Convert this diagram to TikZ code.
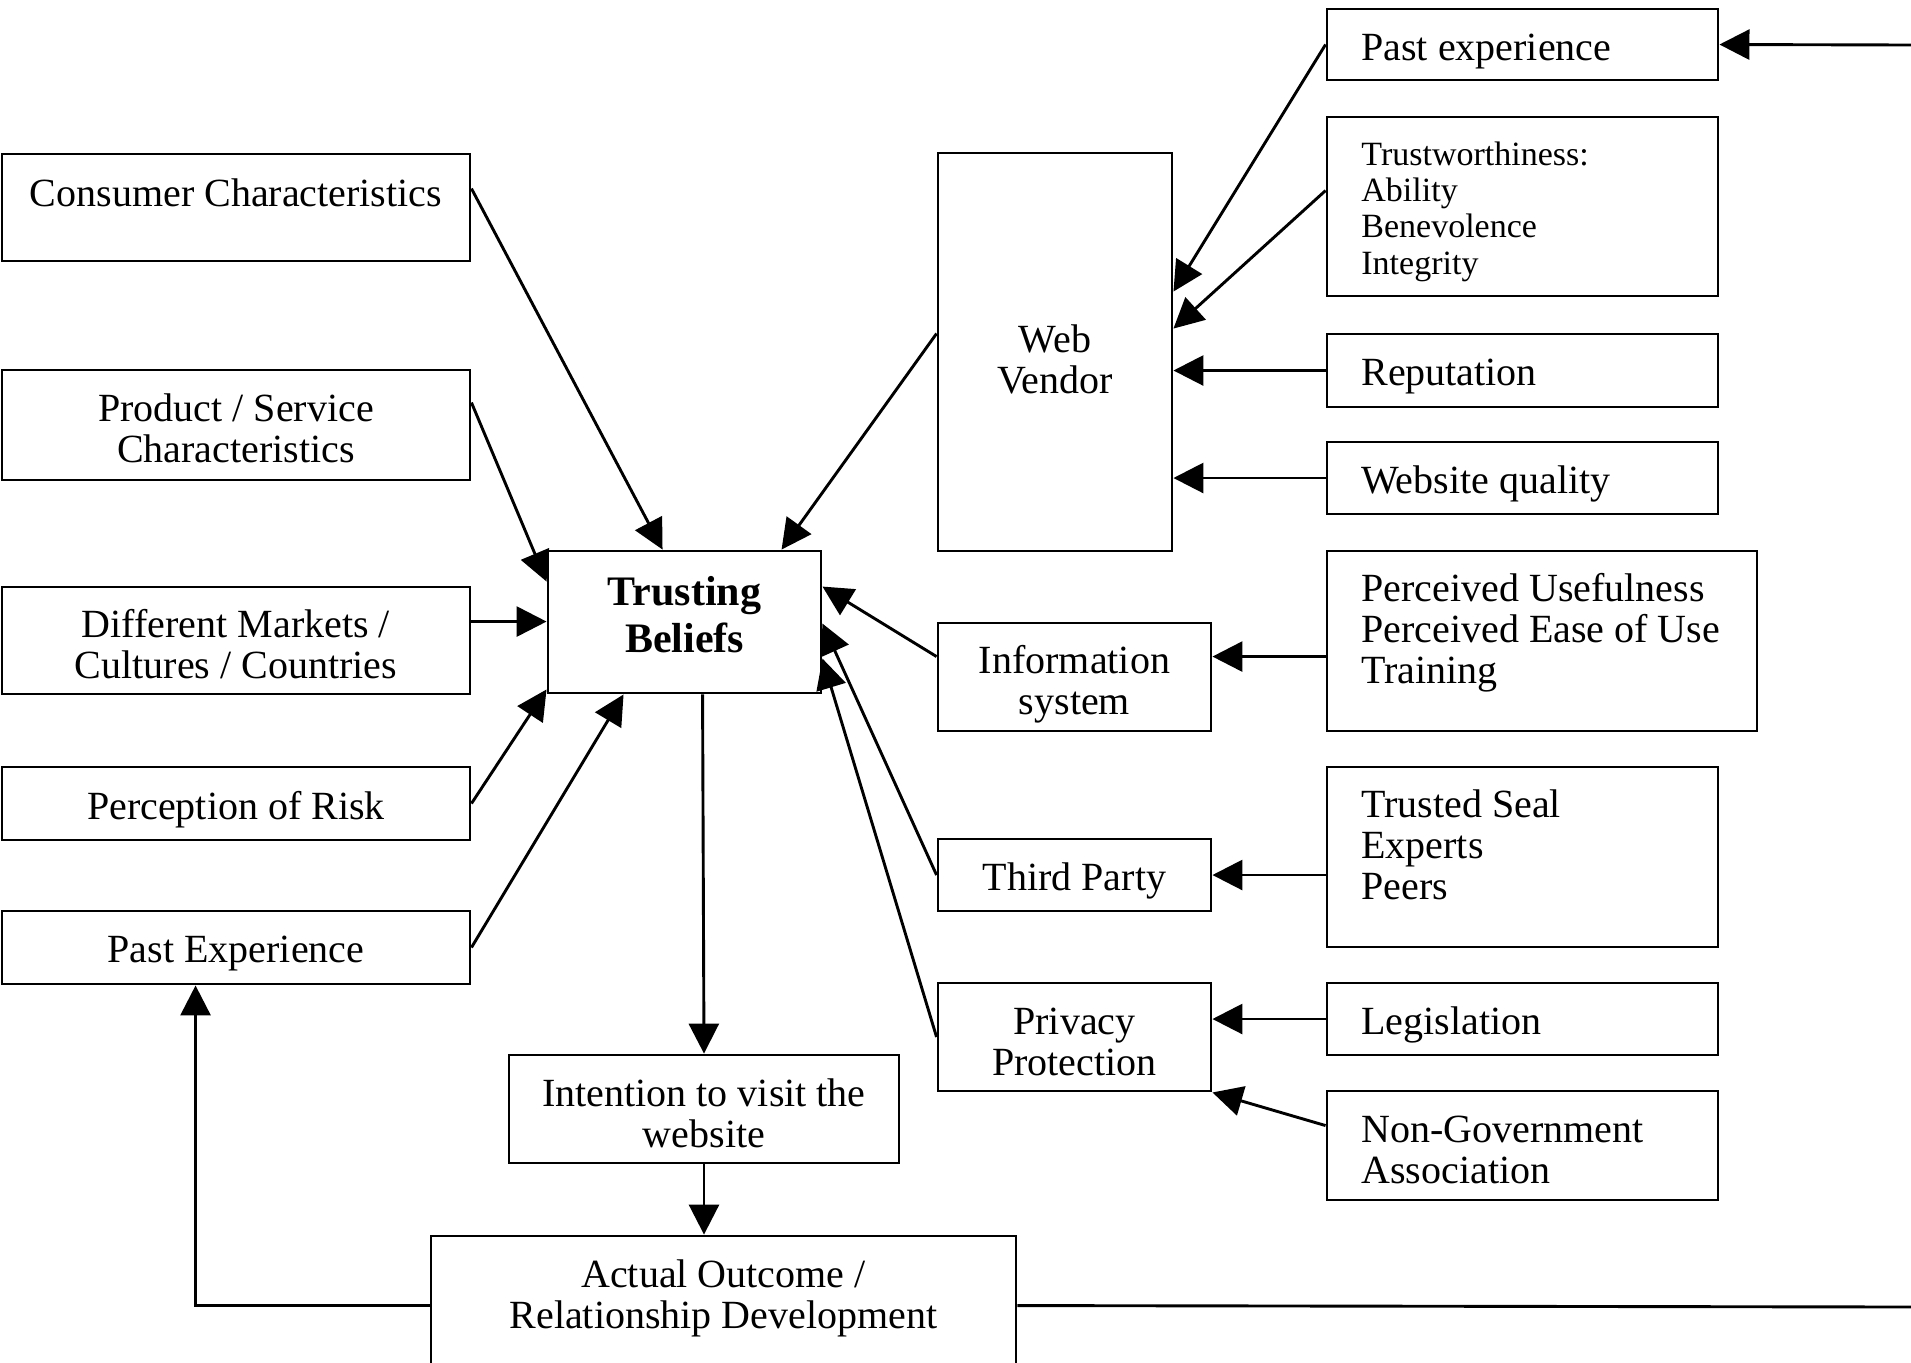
\documentclass[tikz,border=0pt]{standalone}
\usepackage{fontspec}
\setmainfont{Liberation Serif}
\usetikzlibrary{arrows.meta,calc,fit}
\begin{document}
\begin{tikzpicture}[x=0.5pt,y=-0.5pt,
  box/.style={draw,line width=1.45pt,inner sep=0pt,rectangle},
  txt/.style={inner sep=0pt,yshift=-1.1pt,font=\fontsize{20}{20.5}\selectfont,align=center},
  ltxt/.style={inner sep=0pt,yshift=-1.1pt,font=\fontsize{20}{20.5}\selectfont,align=left,anchor=west},
  stxt/.style={inner sep=0pt,yshift=-1.1pt,font=\fontsize{17}{18.2}\selectfont,align=left,anchor=west},
  btxt/.style={inner sep=0pt,yshift=-1.2pt,font=\fontsize{21}{23.5}\selectfont\bfseries,align=center},
  arr/.style={line width=1.45pt,-{Triangle[length=15pt,width=15pt]}},
  ln/.style={line width=1.45pt}]
\useasboundingbox (0,0) rectangle (1911,1362);
\clip (0,0) rectangle (1911,1362);

% left column
\node[box,fit={(2,154)(470,261)}] (cc) {};
\node[txt] (cct) at (236,196.3) {\strut Consumer Characteristics};
\node[box,fit={(2,370)(470,480)}] (ps) {};
\node[txt] (pst) at (236,431.6) {\strut Product / Service\\\strut Characteristics};
\node[box,fit={(2,587)(470,694)}] (dm) {};
\node[txt] (dmt) at (236,647.8) {\strut Different Markets /\\\strut Cultures / Countries};
\node[box,fit={(2,767)(470,840)}] (pr) {};
\node[txt] (prt) at (236,808.8) {\strut Perception of Risk};
\node[box,fit={(2,911)(470,984)}] (pe) {};
\node[txt] (pet) at (236,951.8) {\strut Past Experience};

% centre
\node[box,fit={(548,551)(821,693)}] (tb) {};
\node[btxt] (tbt) at (684.5,617) {\strut Trusting\\\strut Beliefs};
\node[box,fit={(509,1055)(899,1163)}] (itv) {};
\node[txt] (itvt) at (704,1116.3) {\strut Intention to visit the\\\strut website};
\node[box,fit={(431,1236)(1016,1420)}] (ao) {};
\node[txt] (aot) at (723.5,1297.8) {\strut Actual Outcome /\\\strut Relationship Development};

% middle column
\node[box,fit={(938,153)(1172,551)}] (wv) {};
\node[txt] (wvt) at (1055,362.8) {\strut Web\\\strut Vendor};
\node[box,fit={(938,623)(1211,731)}] (infs) {};
\node[txt] (infst) at (1074.5,684) {\strut Information\\\strut system};
\node[box,fit={(938,839)(1211,911)}] (tp) {};
\node[txt] (tpt) at (1074.5,879.8) {\strut Third Party};
\node[box,fit={(938,983)(1211,1091)}] (pp) {};
\node[txt] (ppt) at (1074.5,1044.5) {\strut Privacy\\\strut Protection};

% right column
\node[box,fit={(1327,9)(1718,80)}] (pxr) {};
\node[ltxt] (pxrt) at (1361,49.8) {\strut Past experience};
\node[box,fit={(1327,117)(1718,296)}] (tw) {};
\node[stxt] (twt) at (1361,210.2) {\strut Trustworthiness:\\\strut Ability\\\strut Benevolence\\\strut Integrity};
\node[box,fit={(1327,334)(1718,407)}] (rep) {};
\node[ltxt] (rept) at (1361,374.8) {\strut Reputation};
\node[box,fit={(1327,442)(1718,514)}] (wq) {};
\node[ltxt] (wqt) at (1361,482.8) {\strut Website quality};
\node[box,fit={(1327,551)(1757,731)}] (pu) {};
\node[ltxt] (put) at (1361,631.8) {\strut Perceived Usefulness\\\strut Perceived Ease of Use\\\strut Training};
\node[box,fit={(1327,767)(1718,947)}] (ts) {};
\node[ltxt] (tst) at (1361,848.1) {\strut Trusted Seal\\\strut Experts\\\strut Peers};
\node[box,fit={(1327,983)(1718,1055)}] (leg) {};
\node[ltxt] (legt) at (1361,1023.8) {\strut Legislation};
\node[box,fit={(1327,1091)(1718,1200)}] (ng) {};
\node[ltxt] (ngt) at (1361,1152.3) {\strut Non-Government\\\strut Association};

% arrows into Trusting Beliefs
\draw[arr] ($(cc.north east)+(0,36)$) -- ($(tb.north west)+(116,0)$);
\draw[arr] ($(wv.north west)+(0,182)$) -- ($(tb.north west)+(235,0)$);
\draw[arr] ($(ps.north east)+(0,34)$) -- ($(tb.north west)+(0,32)$);
\draw[arr] ($(dm.north east)+(0,36)$) -- ($(tb.north west)+(0,72)$);
\draw[arr] (pr.east) -- ($(tb.south west)+(0,-5)$);
\draw[arr] (pe.east) -- ($(tb.south west)+(77,0)$);
\draw[arr] ($(infs.north west)+(0,35)$) -- ($(tb.north east)+(0,37)$);
\draw[arr] (tp.west) -- ($(tb.north east)+(0,74)$);
\draw[arr] (pp.west) -- ($(tb.north east)+(0,109)$);

% downward flow
\draw[arr] ($(tb.south west)+(156,0)$) -- (itv.north);
\draw[arr] (itv.south) -- (itv.south |- ao.north);

% feedback loops
\draw[arr] ($(ao.north west)+(0,71)$) -| ($(pe.south west)+(195,0)$);
\coordinate (rend) at (1911,1307);
\draw[ln] ($(ao.north east)+(0,71)$) -- (rend);
\coordinate (tend) at (1911,45);
\draw[arr] (tend) -- (pxr.east);

% arrows into Web Vendor
\draw[arr] (pxr.west) -- ($(wv.north east)+(0,140)$);
\draw[arr] ($(tw.north west)+(0,75)$) -- ($(wv.north east)+(0,177)$);
\draw[arr] (rep.west) -- (rep.west -| wv.east);
\draw[arr] (wq.west) -- (wq.west -| wv.east);

% arrows into the other middle boxes
\draw[arr] ($(pu.north west)+(0,107)$) coordinate (pus) -- (pus -| infs.east);
\draw[arr] (tp.east -| ts.west) -- (tp.east);
\draw[arr] (leg.west) -- (leg.west -| pp.east);
\draw[arr] ($(ng.north west)+(0,36)$) -- (pp.south east);
\end{tikzpicture}
\end{document}
